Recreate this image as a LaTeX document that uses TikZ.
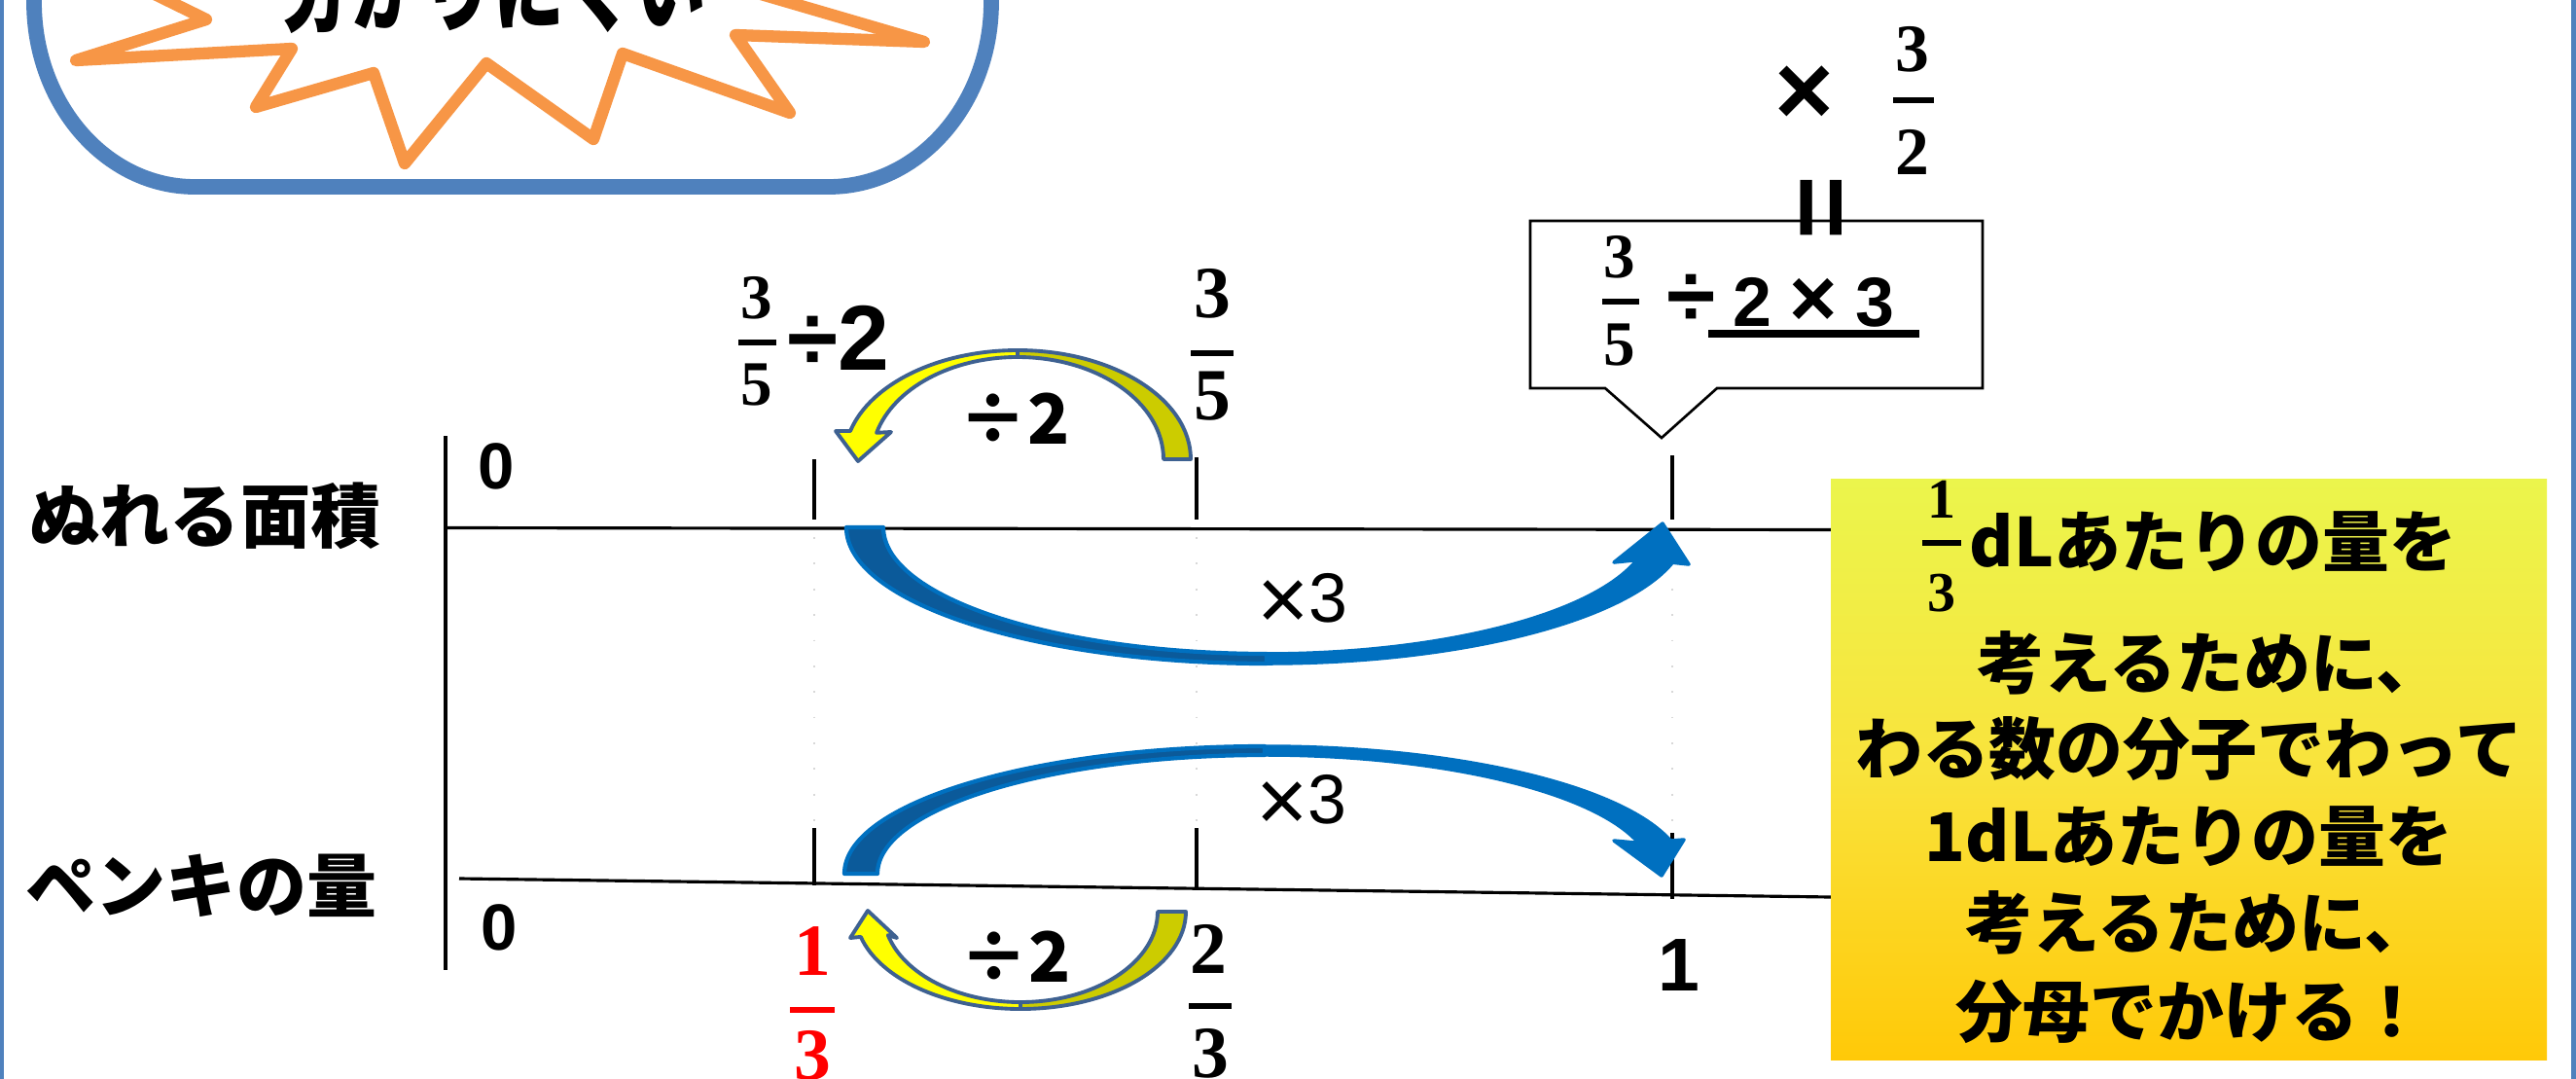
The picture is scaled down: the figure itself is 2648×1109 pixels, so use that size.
\documentclass[tikz,border=0pt]{standalone}
\usepackage{fontspec}
\setmainfont{Liberation Sans}
\newfontfamily\jp{Noto Sans CJK JP}
\newfontfamily\serd{Liberation Serif}
\newcommand\myfs[1]{\fontsize{#1}{#1}\selectfont}
\definecolor{boxblue}{HTML}{4F81BD}
\definecolor{burstor}{HTML}{F79646}
\definecolor{arrblue}{HTML}{0070C0}
\definecolor{arrdark}{HTML}{0B5A9A}
\definecolor{arryel}{HTML}{FFFF00}
\definecolor{arrolive}{HTML}{CCCC00}
\definecolor{arredge}{HTML}{3E6191}
\definecolor{boxtop}{HTML}{EBF54C}
\definecolor{boxmid}{HTML}{F9E33C}
\definecolor{boxbot}{HTML}{FFC908}
\definecolor{faintgray}{HTML}{D8D8D8}
\begin{document}
\begin{tikzpicture}[x=0.01cm,y=-0.01cm,
  every node/.style={inner sep=0pt,outer sep=0pt},
  axisline/.style={line width=0.9pt,black},
  fracbar/.style={line width=1.6pt,line cap=butt},
  numlab/.style={font=\bfseries\myfs{19.1pt}},
  fracnum/.style={font=\serd\bfseries\myfs{#1}},
  jplab/.style={font=\jp\bfseries\myfs{20.5pt}},
  jpbox/.style={font=\jp\bfseries\myfs{19.6pt}},
  opl/.style={font=\jp\bfseries\myfs{20.2pt}},
  oplr/.style={font=\myfs{20.4pt}},
  bluefront/.style={fill=arrblue,draw=arrblue,line width=1pt,line join=round},
  blueback/.style={fill=arrdark,draw=arrblue,line width=1.2pt,line join=round},
  yelfront/.style={fill=arryel,draw=arredge,line width=1.1pt,line join=round},
  yelback/.style={fill=arrolive,draw=arredge,line width=1.1pt,line join=round},
  faint/.style={faintgray,line width=0.5pt,dash pattern=on 0.5pt off 7pt},
  burst/.style={draw=burstor,line width=3.5pt,line join=round,line cap=round,fill=white},
  calloutbox/.style={draw=black,line width=0.75pt,fill=white},
  framel/.style={boxblue,line width=1.2pt}]
\useasboundingbox (0,0) rectangle (2648,1109);
\clip (0,0) rectangle (2648,1109);
\fill[white] (0,0) rectangle (2648,1109);

% outer frame sides
\draw[framel] (1.5,0) -- (1.5,1109);
\draw[framel] (2645.5,0) -- (2645.5,1109);

% rounded box with starburst (cut at top)
\draw[boxblue,line width=4.5pt,fill=white] (35,-300) -- (35,2)
  arc[start angle=180,end angle=90,x radius=165,y radius=190] -- (852,192)
  arc[start angle=90,end angle=0,x radius=167,y radius=190] -- (1019,-300);
\draw[burst] (110,-30) -- (212,20) -- (78,62) -- (300,50) -- (263,110) -- (384,75)
  -- (416,168) -- (500,65) -- (610,143) -- (640,55) -- (812,116) -- (756,36)
  -- (950,43) -- (700,-30);
\begin{scope}[shift={(507,-12)}]
  \node[font=\jp\bfseries\myfs{20.8pt},yscale=1.35] (hard) at (0,0) {分かりにくい};
\end{scope}

% row labels
\node[jplab] (lab1) at (211,530) {ぬれる面積};
\node[jplab] (lab2) at (207,910) {ペンキの量};

% faint guides
\draw[faint] (837,552) -- (837,848);
\draw[faint] (1230,552) -- (1230,848);
\draw[faint] (1719,552) -- (1719,852);

% number lines
\draw[axisline] (458,448) -- (458,997);
\draw[axisline] (458,542.5) -- (1882,544.5);
\draw[axisline] (472,903) -- (1882,922);
\draw[axisline] (837,472) -- (837,534);
\draw[axisline] (1230,470) -- (1230,534);
\draw[axisline] (1719,468) -- (1719,534);
\draw[axisline] (837,851) -- (837,910);
\draw[axisline] (1230,851) -- (1230,914);
\draw[axisline] (1719,856) -- (1719,924);

% upper blue arrow (x3, under the upper line)
\filldraw[blueback] (870,542) arc[start angle=180,end angle=90,x radius=432,y radius=140]
  -- (1302,672) arc[start angle=90,end angle=180,x radius=394,y radius=130] -- cycle;
\filldraw[bluefront] (1302,682) arc[start angle=90,end angle=15,x radius=432,y radius=140]
  -- (1736,580) -- (1709,538) -- (1659,578) -- (1682.6,575.6)
  arc[start angle=15,end angle=90,x radius=394,y radius=130] -- cycle;

% lower blue arrow (x3, above the lower line)
\filldraw[blueback] (868,898) arc[start angle=180,end angle=270,x radius=432,y radius=131]
  -- (1300,776) arc[start angle=270,end angle=180,x radius=398,y radius=122] -- cycle;
\filldraw[bluefront] (1300,767) arc[start angle=270,end angle=345,x radius=432,y radius=131]
  -- (1731,863) -- (1708,900) -- (1659,864) -- (1684.4,866.4)
  arc[start angle=345,end angle=270,x radius=398,y radius=122] -- cycle;

% upper yellow arrow (/2)
\filldraw[yelback] (1224,472) arc[start angle=360,end angle=270,x radius=178,y radius=112]
  -- (1046,367) arc[start angle=270,end angle=360,x radius=150,y radius=105] -- cycle;
\filldraw[yelfront] (1046,360) arc[start angle=270,end angle=195,x radius=178,y radius=112]
  -- (859,443) -- (882,474) -- (916,444) -- (901.1,444.8)
  arc[start angle=195,end angle=270,x radius=150,y radius=105] -- cycle;

% lower yellow arrow (/2)
\filldraw[yelback] (1219,937) arc[start angle=0,end angle=90,x radius=170,y radius=100]
  -- (1049,1030) arc[start angle=90,end angle=0,x radius=141,y radius=93] -- cycle;
\filldraw[yelfront] (1049,1037) arc[start angle=90,end angle=165,x radius=170,y radius=100]
  -- (874,964) -- (892,936) -- (922,964) -- (912.8,961.1)
  arc[start angle=165,end angle=90,x radius=141,y radius=93] -- cycle;

% axis numbers
\node[numlab] (z1) at (510,479) {0};
\node[numlab] (z2) at (513,953) {0};
\node[font=\bfseries\myfs{21.9pt}] (one) at (1726,992) {1};

% operation labels
\node[font=\bfseries\myfs{27pt}] (dv0) at (862,347) {÷2};
\node[opl] (dv1) at (1043,430) {÷2};
\node[opl] (dv2) at (1044,983) {÷2};
\node[oplr] (m1) at (1339,618) {\raisebox{-2.3pt}{\myfs{26pt}×}3};
\node[oplr] (m2) at (1338,825) {\raisebox{-2.3pt}{\myfs{26pt}×}3};

% fractions
\node[fracnum=18.5pt] (a3) at (778,306) {3};
\draw[fracbar] (759,352) -- (798,352);
\node[fracnum=18.5pt] (a5) at (778,396) {5};

\node[fracnum=21.5pt] (b3) at (1246,302) {3};
\draw[fracbar] (1224,363) -- (1268,363);
\node[fracnum=21.5pt] (b5) at (1246,407) {5};

\node[fracnum=21.5pt,red] (c1) at (835,978) {1};
\draw[fracbar,red] (812,1038) -- (858,1038);
\node[fracnum=21.5pt,red] (c3) at (835,1085) {3};

\node[fracnum=21.5pt] (d2) at (1242,975) {2};
\draw[fracbar] (1222,1034) -- (1266,1034);
\node[fracnum=21.5pt] (d3) at (1244,1083) {3};

% callout
\filldraw[calloutbox] (1573,227) -- (2038,227) -- (2038,399) -- (1765,399)
  -- (1708,450) -- (1650,399) -- (1573,399) -- cycle;
\node[fracnum=18.5pt] (e3) at (1665,264) {3};
\draw[fracbar] (1647,310) -- (1685,310);
\node[fracnum=18.5pt] (e5) at (1665,355) {5};
\node[oplr,font=\bfseries\myfs{20.4pt}] (expr) at (1833,309) {\makebox[0.63cm]{\myfs{26pt}÷}\makebox[0.63cm]{2}\makebox[0.63cm]{\myfs{24pt}×}\makebox[0.63cm]{3}};
\draw[line width=2pt] (1756,343) -- (1973,343);
\begin{scope}[shift={(1880,214)}]
  \node[font=\bfseries\myfs{32pt},rotate=90] (eq) at (0,0) {=};
\end{scope}
\node[font=\bfseries\myfs{29.6pt}] (tx) at (1855,98) {×};
\node[fracnum=19.8pt] (t3) at (1966,51) {3};
\draw[fracbar] (1946,103) -- (1988,103);
\node[fracnum=19.8pt] (t2) at (1966,156) {2};

% yellow explanation box
\shade[top color=boxtop,bottom color=boxbot,middle color=boxmid] (1882,492) rectangle (2618,1089);
\node[fracnum=16.5pt] (g1) at (1996,513) {1};
\draw[fracbar] (1976,558) -- (2016,558);
\node[fracnum=16.5pt] (g3) at (1996,610) {3};
\node[jpbox] (y1) at (2275,557) {dLあたりの量を};
\node[jpbox] (y2) at (2272,681) {考えるために、};
\node[jpbox] (y3) at (2250,770) {わる数の分子でわって};
\node[jpbox] (y4) at (2250,860) {1dLあたりの量を};
\node[jpbox] (y5) at (2260,948) {考えるために、};
\node[jpbox] (y6) at (2252,1040) {分母でかける！};
\end{tikzpicture}
\end{document}
